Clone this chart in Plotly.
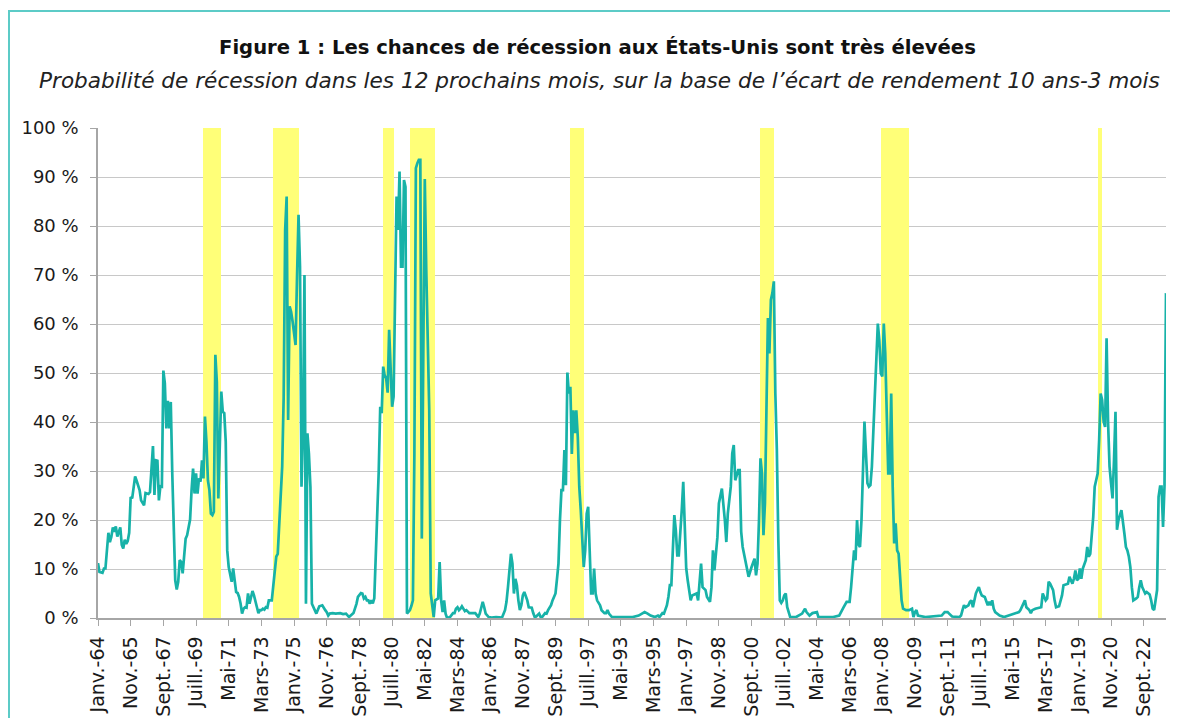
import plotly.graph_objects as go

# ---------------- data ----------------
# months since January 1964 (0 = Janv.-64) and recession probability (%)
months = [
    0, 1, 3, 4, 5, 6, 7, 8, 9, 10, 11, 12, 13, 15, 16, 17, 18, 19, 20, 21, 22, 23, 25, 26, 28, 29, 31, 32, 34, 35,
    36, 37, 38, 39, 40, 41, 42, 43, 44, 45, 46, 47, 48, 49, 50, 51, 52, 53, 54, 55, 56, 57, 58, 59, 60, 61, 62, 63,
    64, 65, 66, 67, 68, 69, 70, 71, 72, 73, 74, 75, 76, 77, 78, 79, 80, 81, 82, 83, 84, 85, 86, 87, 88, 89, 90, 91,
    92, 93, 94, 95, 96, 97, 98, 99, 100, 101, 102, 103, 104, 105, 106, 107, 108, 109, 110, 111, 112, 113, 114, 115,
    117, 118, 119, 120, 121, 122, 123, 124, 125, 126, 127, 128, 129, 130, 131, 132, 133, 134, 135, 136, 137, 138,
    139, 140, 141, 142, 143, 144, 145, 146, 147, 149, 151, 153, 154, 155, 156, 158, 160, 163, 165, 167, 169, 172,
    173, 174, 175, 177, 178, 179, 180, 181, 182, 183, 184, 185, 186, 187, 188, 189, 190, 191, 192, 193, 194, 195,
    196, 197, 198, 199, 200, 201, 202, 203, 204, 205, 206, 207, 208, 210, 211, 212, 213, 214, 215, 216, 217, 218,
    219, 220, 221, 222, 223, 224, 225, 226, 227, 229, 230, 231, 232, 233, 234, 235, 237, 239, 240, 241, 242, 243,
    244, 245, 247, 248, 250, 252, 254, 256, 257, 258, 259, 260, 261, 263, 265, 268, 272, 274, 275, 276, 277, 278,
    279, 280, 281, 282, 283, 284, 285, 286, 287, 288, 289, 290, 292, 293, 294, 295, 297, 298, 299, 301, 302, 303,
    305, 306, 308, 309, 310, 311, 312, 313, 314, 315, 316, 317, 318, 319, 320, 321, 322, 323, 324, 325, 326, 327,
    328, 329, 330, 331, 332, 333, 334, 335, 336, 338, 339, 341, 342, 343, 344, 346, 350, 360, 364, 367, 368, 370,
    372, 375, 377, 378, 380, 381, 382, 383, 384, 385, 386, 387, 388, 389, 390, 391, 392, 393, 394, 395, 396, 397,
    398, 399, 400, 403, 404, 405, 406, 407, 408, 409, 410, 412, 413, 414, 415, 416, 417, 418, 419, 420, 422, 423,
    424, 425, 426, 427, 428, 429, 430, 431, 432, 433, 434, 435, 436, 437, 438, 440, 441, 442, 443, 444, 445, 446,
    447, 448, 449, 450, 451, 452, 453, 454, 455, 456, 457, 458, 459, 460, 461, 462, 463, 464, 465, 466, 470, 472,
    474, 476, 477, 479, 481, 484, 485, 490, 495, 499, 500, 501, 502, 504, 506, 507, 508, 509, 510, 511, 512, 513,
    514, 515, 516, 517, 518, 519, 520, 521, 522, 523, 524, 525, 526, 527, 528, 529, 530, 531, 532, 533, 534, 535,
    536, 537, 538, 539, 540, 541, 542, 544, 546, 548, 549, 550, 551, 552, 557, 564, 568, 570, 572, 573, 575, 580,
    581, 582, 583, 584, 586, 587, 588, 589, 590, 591, 592, 593, 594, 595, 597, 598, 599, 600, 601, 602, 603, 604,
    607, 610, 613, 618, 620, 621, 622, 624, 625, 627, 628, 629, 631, 635, 636, 637, 638, 639, 640, 641, 643, 644,
    645, 647, 648, 649, 650, 653, 654, 655, 656, 657, 658, 659, 660, 661, 662, 663, 664, 665, 666, 667, 668, 669,
    670, 671, 672, 673, 674, 675, 676, 677, 678, 679, 680, 681, 682, 683, 684, 685, 686, 687, 689, 690, 691, 692,
    693, 694, 695, 696, 697, 699, 700, 701, 702, 703, 704, 705, 706, 708, 709, 710, 711, 712, 713, 714, 715, 716,
    717, 718, 719,
]
probability = [
    11.2, 9.4, 9.2, 10.1, 10.1, 14.5, 17.4, 15.5, 16.6, 18.5, 17.6, 18.7, 16.6, 18.5, 14.9, 14.2, 16.0, 15.1, 15.7,
    17.4, 24.7, 24.4, 28.9, 28.0, 26.1, 24.0, 23.0, 25.5, 25.3, 25.7,
    31.2, 35.1, 25.1, 32.2, 32.1, 24.0, 26.9, 26.8, 50.5, 47.9, 38.7, 44.3, 38.7, 44.1, 29.5, 16.6, 7.7, 5.8, 7.4,
    11.8, 11.4, 9.1, 12.8, 16.2, 16.9, 18.3, 20.1, 26.1,
    30.5, 25.4, 29.5, 25.4, 28.5, 27.8, 32.2, 28.5, 41.1, 36.0, 28.1, 26.1, 21.3, 21.0, 21.7, 53.7, 48.2, 24.4, 37.7,
    46.2, 42.1, 41.8, 36.0, 13.8, 10.4, 8.7, 7.4, 10.1,
    7.4, 5.3, 5.1, 4.3, 2.9, 0.9, 1.9, 2.2, 2.1, 5.0, 2.9, 4.3, 5.5, 4.6, 3.6, 2.2, 1.0, 1.6, 1.6, 1.9, 1.7, 2.2,
    2.1, 3.6,
    3.6, 6.7, 8.4, 12.5, 13.1, 20.0, 25.5, 30.9, 45.0, 79.2, 86.0, 40.4, 63.6, 62.5, 60.5, 57.5, 55.7, 69.7, 82.3,
    71.7, 26.8, 37.7,
    70.0, 2.9, 37.7, 33.5, 26.8, 2.9, 2.2, 1.6, 0.9, 2.4, 2.6, 1.6, 1.2, 0.5, 0.9, 1.0, 0.9, 1.0, 0.8, 0.9, 0.2, 1.0,
    1.9, 2.9, 4.3, 5.1, 5.0, 4.0, 4.3, 3.6, 3.6, 2.9, 3.6, 3.0, 4.0, 13.1, 20.0, 30.0, 43.1, 41.8, 51.3, 49.5, 48.9,
    46.0,
    58.8, 50.3, 43.1, 45.2, 62.0, 86.0, 79.2, 91.1, 71.7, 71.7, 89.4, 88.0, 0.9, 1.6, 2.5, 3.6, 33.6, 91.8, 92.8,
    93.5, 93.5, 16.2,
    54.0, 89.6, 71.0, 54.0, 42.4, 5.0, 2.2, 0.2, 3.6, 4.0, 11.4, 3.6, 1.2, 3.6, 0.9, 0.0, 0.2, 1.0, 1.0, 1.9, 2.2,
    1.6,
    1.9, 2.4, 1.4, 1.6, 1.0, 1.0, 1.0, 0.2, 0.9, 2.1, 3.3, 2.2, 0.9, 0.2, 0.1, 0.2, 0.1, 1.6, 3.3, 6.3, 9.4, 13.1,
    11.1, 5.0, 8.0, 6.7, 3.6, 1.6, 2.6, 4.6, 5.3, 4.6, 3.6, 2.2, 2.1, 1.0, 0.2, 0.3, 0.9, 0.2, 0.2, 1.0, 0.9, 1.6,
    2.6, 3.6, 5.0, 8.0, 11.1, 20.0, 26.1, 26.1, 34.3, 27.1, 50.1, 45.8, 47.2, 33.5, 42.4, 37.7, 42.4, 37.0, 26.8,
    22.0, 16.6, 10.4,
    13.8, 21.3, 22.7, 12.5, 5.0, 5.0, 10.1, 5.0, 3.6, 2.6, 1.6, 1.0, 1.0, 1.6, 0.9, 0.2, 0.2, 0.2, 0.5, 1.0, 1.2,
    0.9,
    0.5, 0.2, 0.5, 0.2, 1.0, 0.9, 1.6, 2.6, 4.3, 6.7, 6.7, 12.5, 21.0, 17.9, 12.8, 12.8, 16.6, 22.0, 27.8, 20.0,
    10.1, 7.7,
    5.3, 3.6, 4.6, 5.0, 3.6, 7.0, 11.1, 6.3, 6.0, 5.7, 4.3, 3.3, 6.3, 13.8, 9.7, 13.8, 16.5, 23.4, 25.4, 26.4, 20.0,
    15.5,
    21.3, 24.0, 26.8, 33.6, 35.3, 28.1, 29.5, 30.2, 30.2, 17.6, 14.5, 13.1, 11.1, 9.7, 8.4, 10.4, 11.1, 12.1, 8.7,
    11.1, 20.0, 32.6,
    29.5, 16.9, 23.4, 40.4, 61.2, 54.0, 64.9, 66.3, 68.7, 45.8, 34.5, 16.0, 3.6, 3.1, 3.6, 4.6, 5.0, 2.2, 0.9, 0.2,
    0.2, 0.5,
    0.9, 1.9, 1.2, 0.5, 1.0, 1.2, 0.2, 0.2, 0.2, 0.5, 1.0, 1.6, 2.2, 3.3, 3.3, 6.3, 10.4, 13.8, 11.8, 20.0, 15.0,
    14.5,
    20.0, 30.0, 40.1, 33.6, 27.5, 26.8, 27.1, 30.9, 39.0, 47.5, 52.7, 60.1, 56.7, 49.9, 49.3, 60.1, 54.0, 40.0, 29.5,
    29.5, 45.8, 26.8,
    15.2, 19.3, 13.8, 13.1, 7.7, 3.6, 1.9, 1.6, 1.6, 1.9, 0.2, 1.2, 1.6, 0.5, 0.2, 0.3, 0.5, 1.2, 1.2, 0.9, 0.3, 0.2,
    0.5, 1.6, 2.6, 2.2, 2.6, 3.3, 3.6, 2.2, 4.0, 5.0, 5.7, 6.3, 5.3, 4.6, 4.3, 3.6, 2.6, 3.3, 2.6, 3.6, 1.9, 1.2,
    0.5, 0.2, 0.5, 0.9, 1.2, 1.6, 2.2, 3.6, 2.2, 1.6, 1.0, 1.6, 1.9, 2.2, 5.0, 4.3, 3.6, 4.0, 7.4, 7.0, 5.7, 3.6,
    2.2, 2.4, 3.3, 4.6, 6.7, 7.0, 8.4, 7.7, 7.0, 8.0, 9.7, 7.7, 8.0, 10.1, 8.0, 10.1, 10.8, 11.8, 14.5, 12.5, 13.1,
    16.6,
    20.6, 26.8, 28.1, 29.5, 36.3, 45.8, 44.5, 40.1, 39.0, 57.1, 40.0, 30.9, 27.5, 24.4, 32.2, 42.1, 18.0, 20.0, 22.0,
    20.0, 17.2, 14.5,
    13.8, 12.5, 10.4, 6.3, 3.6, 4.0, 4.3, 6.3, 7.7, 6.3, 5.7, 5.0, 5.3, 4.8, 3.6, 1.9, 1.6, 3.6, 5.7, 24.7, 26.8,
    26.8,
    18.6, 27.0, 66.3,
]

# NBER recessions (months since Jan 1964): first month, and month after the last one
recession_start = [71, 118, 192, 210, 318, 446, 527, 673]
recession_end = [83, 135, 199, 227, 327, 455, 546, 676]

# category-axis labels, one every 22 months
tick_labels = [
    "Janv.-64", "Nov.-65", "Sept.-67", "Juill.-69", "Mai-71", "Mars-73", "Janv.-75", "Nov.-76",
    "Sept.-78", "Juill.-80", "Mai-82", "Mars-84", "Janv.-86", "Nov.-87", "Sept.-89", "Juill.-97",
    "Mai-93", "Mars-95", "Janv.-97", "Nov.-98", "Sept.-00", "Juill.-02", "Mai-04", "Mars-06",
    "Janv.-08", "Nov.-09", "Sept.-11", "Juill.-13", "Mai-15", "Mars-17", "Janv.-19", "Nov.-20",
    "Sept.-22",
]
tick_step = 22
y_ticks = [0, 10, 20, 30, 40, 50, 60, 70, 80, 90, 100]
y_tick_labels = [f"{v} %" for v in y_ticks]

title_text = "Figure 1 : Les chances de récession aux États-Unis sont très élevées"
subtitle_text = ("Probabilité de récession dans les 12 prochains mois, "
                 "sur la base de l’écart de rendement 10 ans-3 mois")

# ---------------- figure ----------------
FONT = "DejaVu Sans"
# the page body has an 8 px default margin, so the figure sits at (8, 8) in the window
OFF = 8
W, H = 1170, 710
ML, MR, MT, MB = 90, 12, 120, 100

fig = go.Figure()

fig.add_trace(go.Bar(
    x=[(s + e) / 2 for s, e in zip(recession_start, recession_end)],
    y=[100] * len(recession_start),
    width=[e - s for s, e in zip(recession_start, recession_end)],
    marker=dict(color="#FFFF78", line=dict(width=0)),
    hoverinfo="skip",
    showlegend=False,
))

fig.add_trace(go.Scatter(
    x=months, y=probability,
    mode="lines",
    line=dict(color="#17B2A8", width=2.7),
    showlegend=False,
))

fig.update_xaxes(
    range=[0, 719],
    tickvals=[i * tick_step for i in range(len(tick_labels))],
    ticktext=tick_labels,
    tickangle=-90,
    ticks="outside", ticklen=6, tickwidth=1.3, tickcolor="#a6a6a6",
    ticklabelstandoff=3,
    showline=True, linecolor="#a6a6a6", linewidth=1.5,
    showgrid=False, zeroline=False,
    automargin=False,
    tickfont=dict(family=FONT, size=19, color="#1a1a1a"),
)
fig.update_yaxes(
    range=[0, 100],
    tickvals=y_ticks,
    ticktext=y_tick_labels,
    ticks="outside", ticklen=6, tickwidth=1.3, tickcolor="#a6a6a6",
    ticklabelstandoff=8,
    showline=True, linecolor="#a6a6a6", linewidth=1.5,
    showgrid=True, gridcolor="#c8c8c8", gridwidth=1.3,
    zeroline=False,
    automargin=False,
    tickfont=dict(family=FONT, size=18, color="#1a1a1a"),
)

pw = W - ML - MR
ph = H - MT - MB


def px_to_paper_x(px):
    # px: horizontal position in the window
    return (px - OFF - ML) / pw


def px_to_paper_y(py):
    # py: vertical position in the window
    return (H - MB - (py - OFF)) / ph


fig.update_layout(
    width=W, height=H,
    margin=dict(l=ML, r=MR, t=MT, b=MB, autoexpand=False),
    paper_bgcolor="white", plot_bgcolor="white",
    bargap=0,
    annotations=[
        dict(text="<b>" + title_text + "</b>", xref="paper", yref="paper",
             x=px_to_paper_x(597), y=px_to_paper_y(47),
             xanchor="center", yanchor="middle", showarrow=False,
             font=dict(family=FONT, size=19.6, color="#111111")),
        dict(text="<i>" + subtitle_text + "</i>", xref="paper", yref="paper",
             x=px_to_paper_x(599), y=px_to_paper_y(81),
             xanchor="center", yanchor="middle", showarrow=False,
             font=dict(family=FONT, size=21.6, color="#222222")),
    ],
    shapes=[
        dict(type="line", xref="paper", yref="paper",
             x0=px_to_paper_x(OFF), x1=px_to_paper_x(OFF + W + 5),
             y0=px_to_paper_y(11), y1=px_to_paper_y(11),
             line=dict(color="#5CCBC7", width=2)),
        dict(type="line", xref="paper", yref="paper",
             x0=px_to_paper_x(OFF + 1), x1=px_to_paper_x(OFF + 1),
             y0=px_to_paper_y(11), y1=px_to_paper_y(OFF + H + 5),
             line=dict(color="#5CCBC7", width=2)),
    ],
)

fig.write_html("out.html")
